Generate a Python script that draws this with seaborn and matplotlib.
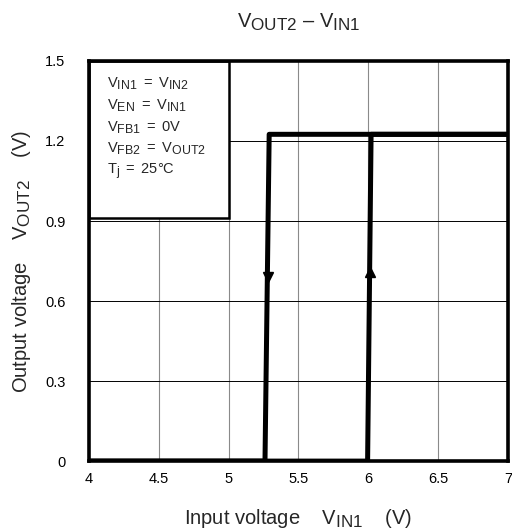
import matplotlib
matplotlib.use("Agg")
import matplotlib.pyplot as plt
import matplotlib._mathtext as mt
import seaborn as sns
import pandas as pd
from matplotlib.patches import Rectangle

# sweep down (VIN1 decreasing) and sweep up (VIN1 increasing)
vin_down = [7.0, 5.29, 5.26, 4.0]
vout_down = [1.225, 1.225, 0.0, 0.0]
vin_up = [4.0, 5.995, 6.02, 7.0]
vout_up = [0.0, 0.0, 1.225, 1.225]

# arrow markers on the edges
arrow_down = (5.283, 0.69)
arrow_up = (6.013, 0.71)

x_ticks = [4, 4.5, 5, 5.5, 6, 6.5, 7]
x_labels = ["4", "4.5", "5", "5.5", "6", "6.5", "7"]
y_ticks = [0, 0.3, 0.6, 0.9, 1.2, 1.5]
y_labels = ["0", "0.3", "0.6", "0.9", "1.2", "1.5"]

cond_lines = [
    r"$\mathregular{V_{IN1}\ =\ V_{IN2}}$",
    r"$\mathregular{V_{EN}\ =\ V_{IN1}}$",
    r"$\mathregular{V_{FB1}\ =\ 0V}$",
    r"$\mathregular{V_{FB2}\ =\ V_{OUT2}}$",
    r"$\mathregular{T_{j}\ =\ 25°C}$",
]

# datasheet style subscripts: only a bit smaller and a bit lower
mt.SHRINK_FACTOR = 0.85
mt.FontConstantsBase.sub1 = 0.3
mt.FontConstantsBase.sub2 = 0.35

sns.set_style("white")
plt.rcParams['font.family'] = ['Liberation Sans', 'DejaVu Sans']
plt.rcParams['mathtext.fontset'] = 'custom'
plt.rcParams['mathtext.rm'] = 'Liberation Sans'
plt.rcParams['mathtext.it'] = 'Liberation Sans'

fig = plt.figure(figsize=(5.12, 5.30), dpi=100)
ax = fig.add_axes([0.174, 0.130, 0.818, 0.755])

df_down = pd.DataFrame({"vin": vin_down, "vout": vout_down})
df_up = pd.DataFrame({"vin": vin_up, "vout": vout_up})

ax.set_xlim(4, 7)
ax.set_ylim(0, 1.5)
ax.set_xticks(x_ticks)
ax.set_xticklabels(x_labels)
ax.set_yticks(y_ticks)
ax.set_yticklabels(y_labels)
ax.tick_params(axis='both', length=0, labelsize=10.5, colors='black')
ax.tick_params(axis='x', pad=8)
ax.tick_params(axis='y', pad=17)

# grid: vertical gray, horizontal black
for xv in x_ticks[1:-1]:
    ax.axvline(xv, color='#8a8a8a', lw=0.8, zorder=1)
for yv in y_ticks[1:-1]:
    ax.axhline(yv, color='black', lw=0.7, zorder=1)

sns.lineplot(data=df_down, x="vin", y="vout", sort=False, color='black',
             lw=3.6, ax=ax, zorder=3)
sns.lineplot(data=df_up, x="vin", y="vout", sort=False, color='black',
             lw=3.6, ax=ax, zorder=3)
ax.plot([arrow_down[0]], [arrow_down[1]], marker='v', color='black',
        markersize=7, zorder=4)
ax.plot([arrow_up[0]], [arrow_up[1]], marker='^', color='black',
        markersize=7, zorder=4)

# condition box
ax.add_patch(Rectangle((4.0, 0.91), 1.0, 0.59, facecolor='white',
                       edgecolor='black', lw=1.8, zorder=5, clip_on=False))
for i, line in enumerate(cond_lines):
    ax.text(4.13, 1.415 - i * 0.082, line, fontsize=10.5, va='center',
            ha='left', zorder=6)

for side in ['left', 'bottom', 'top', 'right']:
    ax.spines[side].set_color('black')
    ax.spines[side].set_linewidth(2.6)
    ax.spines[side].set_zorder(7)

ax.set_xlabel(r"Input voltage    $\mathregular{V_{IN1}}$    (V)", fontsize=14.5,
              labelpad=15)
ax.set_ylabel(r"Output voltage    $\mathregular{V_{OUT2}}$    (V)", fontsize=14.5,
              labelpad=9)
ax.set_title(r"$\mathregular{V_{OUT2}\ –\ V_{IN1}}$", fontsize=14.5, pad=24)

fig.savefig("out.png", dpi=100)
